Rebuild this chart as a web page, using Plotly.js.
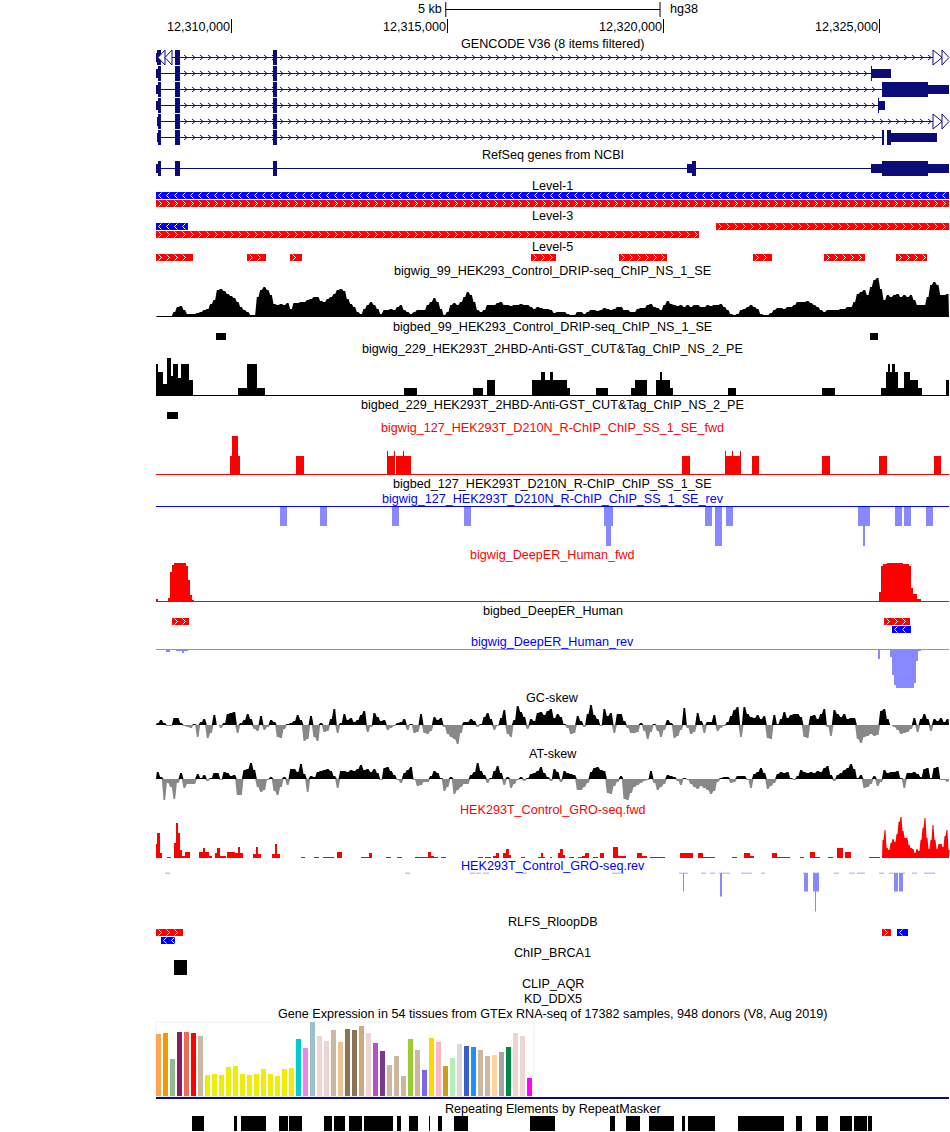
<!DOCTYPE html>
<html><head><meta charset="utf-8">
<script src="https://cdn.plot.ly/plotly-3.0.1.min.js"></script>
<style>html,body{margin:0;padding:0;background:#fff}#c{width:950px;height:1132px}</style>
</head><body><div id="c"></div>
<script>
// ---------- genome window: positions below are display bins (one bin = 5000/216 bases) ----------
const BP_PER_BIN = 5000 / 216;
const WINDOW_START = 12310000 - 75.5 * BP_PER_BIN;
const WINDOW_BINS = 793;
const WIG_STEP = 10 / 3; // bins per value in fixed-step wiggle tracks

const rulerTicks = [12310000, 12315000, 12320000, 12325000];
const rulerLabels = ['12,310,000', '12,315,000', '12,320,000', '12,325,000'];
const scaleBar = [12315000 - 40, 12320000 - 80];

// ---------- fixed-step signal ----------
const dripSignal = [1,1,1,1,1,5,10,11,7,3,3,3,4,5,7,8,13,17,27,28,26,23,21,19,15,10,7,5,2,2,20,27,30,27,22,13,12,13,12,14,8,14,14,15,15,17,18,20,20,16,15,18,20,23,27,28,26,18,13,10,5,3,8,12,15,12,8,3,7,7,8,7,10,12,7,5,3,5,7,7,7,12,15,19,15,8,2,5,12,14,12,15,20,25,22,15,7,5,7,12,12,12,14,15,12,12,11,12,12,13,12,12,10,8,10,9,8,8,
7,4,5,5,5,3,2,2,5,5,3,5,7,7,6,7,9,8,7,8,10,10,7,7,5,5,8,9,9,12,13,10,9,7,12,16,13,12,11,12,10,12,10,12,12,10,10,12,11,12,12,13,10,7,3,2,3,7,8,10,12,10,8,3,2,2,4,7,9,9,8,10,10,12,15,15,15,16,14,12,10,7,5,7,7,7,7,8,8,10,10,15,23,25,27,22,30,37,39,28,17,22,20,22,23,20,22,20,22,17,12,12,12,20,32,35,32,22,22,23];
const gcSkew = [2,5,2,-1,-1,7,7,2,-1,-2,-3,1,-12,3,6,-13,-8,10,0,-3,2,11,12,13,-8,2,5,11,6,-4,-6,9,-5,-2,5,3,-12,-13,-4,1,2,4,10,5,-16,-14,9,-12,-16,2,-7,-6,6,16,-8,2,11,5,7,3,5,10,14,-7,-2,12,8,4,5,-5,-3,-1,2,3,6,-5,1,-8,-7,11,-8,-9,-6,8,5,7,-2,-9,-12,-14,-19,-8,3,3,6,4,-2,1,8,12,6,-5,-1,7,15,-9,-12,5,19,13,8,-4,6,4,12,13,10,14,
16,7,11,8,1,-3,-9,-8,9,4,-2,11,20,10,6,-1,16,9,12,-8,11,11,4,-3,-8,-8,-7,2,-6,-14,-7,1,-6,-12,-5,5,2,-13,-11,-5,17,-3,-9,-7,12,4,-8,3,3,10,-6,-3,-1,3,9,15,18,-12,18,11,8,7,10,6,9,-13,-14,10,1,6,13,7,10,11,11,8,-12,-13,9,10,6,11,16,-2,-11,15,11,8,11,6,7,7,-14,-18,-12,-11,-9,-11,-10,14,16,6,0,-2,-5,-9,-8,-7,-4,7,-7,6,11,6,-6,6,4,7,3,6];
const atSkew = [7,2,-21,-4,-8,-20,-4,6,-9,-5,-5,-5,5,1,4,-2,1,6,6,-1,7,6,3,4,-16,-16,9,10,16,9,-8,-13,-11,-1,2,-12,-16,-8,2,-6,10,10,7,15,5,-13,3,2,7,8,9,10,8,3,-9,8,8,7,9,8,10,14,9,10,7,10,6,-1,11,12,8,4,-1,-4,6,9,12,-1,-7,-6,-3,-3,3,8,6,1,-12,-8,2,-15,-11,-8,-5,-5,4,7,16,8,4,-4,1,8,13,6,-6,2,-9,-5,-1,2,-2,1,5,6,8,12,6,2,
-2,10,7,-3,8,6,5,4,-11,-11,-8,-4,7,11,12,9,8,-14,-15,-7,-3,3,-20,-21,-14,-8,-6,-4,-2,-1,8,-4,-11,-8,-5,4,3,2,-2,-6,1,-1,-5,-8,-10,-7,-9,-11,-15,-12,-3,1,2,2,-4,-3,3,3,3,-1,-9,5,7,11,6,-10,-7,-4,5,7,6,7,1,-1,3,9,7,6,7,6,8,7,11,13,4,-2,4,6,9,11,15,10,1,4,-9,-8,-5,3,-7,-3,9,6,7,7,8,1,-9,6,6,7,5,2,10,11,1,11,12,-1,-1,-3];
const groFwdPeak = [18,28,10,8,15,19,16,24,36,41,27,20,20,13,10,9,5,9,7,18,30,40,20,9,18,33,18,9,14,14,11,22,28,8];
const GRO_PEAK_START = 726;

// ---------- segment signal: [start bin, end bin, value] ----------
const cutTagSegments = [[0,2,32],[2,7,24],[7,11,12],[11,15,38],[15,17,20],[17,22,32],[22,25,18],[25,33,32],[33,37,16],[82,91,8],[91,101,32],[101,109,8],[248,261,8],[317,327,8],[331,339,16],[376,385,16],[385,389,24],[389,394,16],[394,397,24],[397,411,16],[411,414,8],[440,452,8],[475,479,8],[479,491,16],[500,504,16],[504,506,24],[506,514,16],[514,517,8],[572,580,8],[666,679,8],[725,730,8],[730,732,24],[732,734,32],[734,736,24],[736,739,32],[739,742,24],[742,748,8],[748,754,24],[754,762,16],[762,766,8],[790,793,16]];
const rchipFwdSegments = [[74,76,19],[76,82,39],[82,84,19],[140,148,19],[231,232,24],[232,238,19],[238,239,24],[240,247,19],[247,248,24],[248,255,19],[526,534,19],[569,570,24],[570,576,19],[576,577,24],[577,584,19],[584,585,24],[596,603,19],[666,674,19],[723,731,19],[778,785,19]];
const rchipRevSegments = [[124,131,20],[164,171,20],[236,243,20],[308,315,20],[448,450,20],[450,455,40],[455,457,20],[549,556,20],[559,566,40],[570,577,20],[702,707,20],[707,709,40],[709,714,20],[739,746,20],[748,755,20],[770,777,20]];
const deepFwdSegments = [[0,2,3],[2,12,1],[12,14,4],[14,16,30],[16,18,37],[18,30,39],[30,32,36],[32,34,22],[34,36,7],[36,38,2],[38,42,1],[75,77,1],[292,294,1],[723,725,10],[725,727,36],[727,731,38],[731,747,39],[747,753,38],[753,755,36],[755,757,14],[757,761,8],[761,765,3],[765,772,1]];
const deepRevSegments = [[4,10,1],[10,14,3],[14,18,1],[20,26,2],[26,28,4],[28,32,2],[709,712,1],[722,724,10],[734,736,8],[736,738,26],[738,740,36],[740,758,39],[758,760,34],[760,762,12],[762,765,2]];
const groFwdSegments = [[0,1,14],[1,4,25],[4,6,5],[11,15,1],[18,20,15],[20,22,35],[22,24,25],[24,26,8],[26,29,2],[29,34,6],[43,47,6],[47,49,10],[49,53,6],[53,56,2],[59,61,5],[61,64,10],[64,70,2],[71,75,6],[75,79,6],[79,82,5],[82,84,11],[84,87,5],[97,100,4],[100,102,11],[102,105,4],[116,119,4],[119,121,14],[121,124,4],[145,149,1],[158,163,1],[167,172,1],[172,178,1],[181,186,6],[205,213,1],[213,216,5],[230,235,1],[241,246,1],[259,269,1],[269,272,1],[272,275,6],[275,278,2],[278,282,1],[285,290,1],[322,327,1],[329,335,1],[337,340,2],[340,343,5],[347,350,5],[350,353,9],[353,355,3],[365,369,1],[382,385,1],[385,387,5],[387,389,1],[394,396,1],[402,404,5],[404,407,9],[407,409,3],[413,418,1],[422,426,1],[426,429,2],[429,433,5],[437,442,1],[444,448,5],[457,462,11],[462,470,2],[481,486,5],[486,491,2],[494,509,1],[524,531,5],[531,537,5],[542,547,5],[547,559,1],[576,581,1],[588,594,5],[594,598,2],[616,621,5],[621,634,1],[644,648,1],[654,659,6],[659,664,1],[672,677,1],[681,687,10],[689,695,6],[713,724,1]];
const groRevSegments = [[9,14,1],[249,254,1],[314,319,1],[320,325,1],[327,333,1],[366,371,1],[456,468,1],[523,527,1],[527,528,19],[528,532,1],[545,550,1],[554,559,1],[563,564,1],[564,566,24],[566,574,1],[585,596,1],[605,609,1],[647,648,1],[648,652,19],[657,659,19],[659,660,39],[660,663,19],[678,683,1],[693,699,1],[701,709,1],[723,728,1],[733,738,1],[738,742,19],[743,747,19],[747,749,1],[756,761,1],[768,779,1]];

// ---------- feature tracks: start and end bins ----------
const level1Blue = [[0, 793]];
const level1Red = [[0, 793]];
const level3Blue = [[0, 32]];
const level3Red = [[0, 543]];
const level3RedUpper = [[560, 793]];
const level5Red = [[0,37],[91,110],[134,146],[375,400],[463,511],[597,616],[668,709],[740,771]];
const bed99 = [[60,70],[714,722]];
const bed229 = [[11,22]];
const deepBedRed = [[16,33],[728,754]];
const deepBedBlue = [[736,755]];
const rlfsRed = [[0,27],[726,735]];
const rlfsBlue = [[5,19]];
const rlfsBlueRight = [[741,752]];
const brca1 = [[18,31]];
const repeatMasker = [[36,48],[78,81],[85,110],[123,132],[133,146],[168,176],[178,189],[193,206],[208,237],[241,245],[253,262],[273,274],[282,286],[298,312],[374,399],[454,459],[470,484],[493,518],[526,529],[532,559],[582,628],[640,646],[660,672],[684,696],[698,711],[712,716]];

// exons per transcript: full-height coding blocks and shorter UTR blocks
const txThick = [[[1,5],[19,24],[117,121]],[[2,5],[19,24],[117,121]],[[2,5],[19,24],[117,121],[726,772]],[[2,5],[19,24],[117,121]],[[2,5],[19,24],[117,121]],[[2,5],[19,24],[117,121],[726,728],[731,735]]];
const txUtr = [[[0,1]],[[0,2],[715,735]],[[0,2],[772,793]],[[0,2],[723,729]],[[1,2]],[[1,2],[735,781]]];
const txThin = [[],[[715,716]],[],[[722,723]],[],[]];
const txLineEnd = [786, 715, 726, 722, 786, 726];
const refseqThick = [[2,5],[19,24],[117,121],[536,540],[726,772]];
const refseqUtr = [[0,2],[531,536],[715,726],[772,793]];

// ---------- GTEx ----------
const gtexTissues = ['Adipose - Subcutaneous','Adipose - Visceral','Adrenal Gland','Artery - Aorta','Artery - Coronary','Artery - Tibial','Bladder','Brain - Amygdala','Brain - ACC','Brain - Caudate','Brain - Cerebellar Hemisphere','Brain - Cerebellum','Brain - Cortex','Brain - Frontal Cortex','Brain - Hippocampus','Brain - Hypothalamus','Brain - Nucleus accumbens','Brain - Putamen','Brain - Spinal cord','Brain - Substantia nigra','Breast','EBV lymphocytes','Cultured fibroblasts','Cervix - Ectocervix','Cervix - Endocervix','Colon - Sigmoid','Colon - Transverse','Esophagus - GE Junction','Esophagus - Mucosa','Esophagus - Muscularis','Fallopian Tube','Heart - Atrial','Heart - Ventricle','Kidney - Cortex','Kidney - Medulla','Liver','Lung','Minor Salivary Gland','Muscle - Skeletal','Nerve - Tibial','Ovary','Pancreas','Pituitary','Prostate','Skin - Not exposed','Skin - Exposed','Small Intestine','Spleen','Stomach','Testis','Thyroid','Uterus','Vagina','Whole Blood'];
const gtexValues = [62,63,37,64,64,63,60,21,22,21,29,30,22,21,22,27,22,20,27,28,57,48,74,60,55,66,54,67,66,70,63,53,45,31,40,20,57,46,26,58,54,30,38,52,50,49,46,40,41,44,49,63,60,18];
const gtexColors = ['#FFA54F','#EE9A00','#8FBC8F','#8B1C62','#EE6A50','#FF0000','#CDB79E','#EEEE00','#EEEE00','#EEEE00','#EEEE00','#EEEE00','#EEEE00','#EEEE00','#EEEE00','#EEEE00','#EEEE00','#EEEE00','#EEEE00','#EEEE00','#00CDCD','#EE82EE','#9AC0CD','#EED5D2','#EED5D2','#CDB79E','#EEC591','#8B7355','#8B7355','#CDAA7D','#EED5D2','#B452CD','#7A378B','#CDB79E','#CDB79E','#CDB79E','#9ACD32','#CDB79E','#7A67EE','#FFD700','#FFB6C1','#CD9B1D','#B4EEB4','#D9D9D9','#3A5FCD','#1E90FF','#CDB79E','#CDB79E','#FFD39B','#A6A6A6','#008B45','#EED5D2','#EED5D2','#FF00FF'];

// ---------- track labels ----------
const RED = '#ff0000', BLUE = '#0000ff', BLACK = '#000000', NAVY = '#0c0c78', LAV = '#8888ff', GREY = '#888888';
const trackLabels = [
 ['GENCODE V36 (8 items filtered)',44,BLACK],['RefSeq genes from NCBI',155,BLACK],['Level-1',186,BLACK],['Level-3',216,BLACK],['Level-5',247,BLACK],
 ['bigwig_99_HEK293_Control_DRIP-seq_ChIP_NS_1_SE',271,BLACK],['bigbed_99_HEK293_Control_DRIP-seq_ChIP_NS_1_SE',327,BLACK],
 ['bigwig_229_HEK293T_2HBD-Anti-GST_CUT&amp;Tag_ChIP_NS_2_PE',349,BLACK],['bigbed_229_HEK293T_2HBD-Anti-GST_CUT&amp;Tag_ChIP_NS_2_PE',405,BLACK],
 ['bigwig_127_HEK293T_D210N_R-ChIP_ChIP_SS_1_SE_fwd',428,RED],['bigbed_127_HEK293T_D210N_R-ChIP_ChIP_SS_1_SE',484,BLACK],['bigwig_127_HEK293T_D210N_R-ChIP_ChIP_SS_1_SE_rev',499,BLUE],
 ['bigwig_DeepER_Human_fwd',555,RED],['bigbed_DeepER_Human',611,BLACK],['bigwig_DeepER_Human_rev',642,BLUE],
 ['GC-skew',698,BLACK],['AT-skew',754,BLACK],['HEK293T_Control_GRO-seq.fwd',810,RED],['HEK293T_Control_GRO-seq.rev',866,BLUE],
 ['RLFS_RloopDB',922,BLACK],['ChIP_BRCA1',953,BLACK],['CLIP_AQR',984,BLACK],['KD_DDX5',999,BLACK],
 ['Gene Expression in 54 tissues from GTEx RNA-seq of 17382 samples, 948 donors (V8, Aug 2019)',1014,BLACK],
 ['Repeating Elements by RepeatMasker',1109,BLACK]
];

// ---------- helpers ----------
const W = 950, H = 1132;
const FONT = 'Liberation Sans, Arial, sans-serif';
const gx = b => WINDOW_START + b * BP_PER_BIN;
const traces = [], layout = {
  width: W, height: H, margin: {l:0,r:0,t:0,b:0,pad:0}, showlegend: false,
  paper_bgcolor: '#ffffff', plot_bgcolor: 'rgba(0,0,0,0)', hovermode: false,
  xaxis: {range:[gx(-156), gx(W-156)], visible:false, fixedrange:true, domain:[0,1]},
  xaxis2: {range:[-2.5/7-156/7, -2.5/7+(W-156)/7], visible:false, fixedrange:true, overlaying:'x', anchor:'y'},
  yaxis: {range:[H,0], visible:false, fixedrange:true, domain:[0,1]},
  annotations: [], shapes: []
};
let axisN = 1;
function trackAxis(top, bottom, lo, hi) {
  axisN++;
  layout['yaxis'+axisN] = {domain:[1-bottom/H, 1-top/H], range:[lo,hi], visible:false, fixedrange:true, anchor:'x'};
  return 'y'+axisN;
}
function rects(list, top, h, color, yaxis) {
  const x=[], y=[];
  list.forEach(([s,e]) => { x.push(gx(s),gx(e),gx(e),gx(s),gx(s),null); y.push(top,top,top+h,top+h,top,null); });
  traces.push({type:'scatter',mode:'lines',x,y,fill:'toself',fillcolor:color,line:{width:0,color},yaxis:yaxis||'y',xaxis:'x'});
}
function chevrons(list, centre, dir, color, halfH, wide, step, phase, width) {
  const x=[], y=[];
  list.forEach(([s,e]) => {
    for (let b = s + phase; b + wide <= e; b += step) {
      if (dir > 0) { x.push(gx(b),gx(b+wide),gx(b),null); }
      else { x.push(gx(b+wide),gx(b),gx(b+wide),null); }
      y.push(centre-halfH,centre,centre+halfH,null);
    }
  });
  traces.push({type:'scatter',mode:'lines',x,y,line:{width:width||1,color},yaxis:'y',xaxis:'x',connectgaps:false});
}
function bed(list, top, color, dir) {
  rects(list, top, 7, color);
  chevrons(list, top+3.5, dir, '#ffffff', 3, 3, 8, 2.5);
}
function hline(b0, b1, y, color, yaxis, width) {
  traces.push({type:'scatter',mode:'lines',x:[gx(b0),gx(b1)],y:[y,y],line:{width:width||1,color},yaxis:yaxis||'y',xaxis:'x'});
}
function segTrack(segs, ax, color) {
  const x=[], y=[];
  segs.forEach(([s,e,v]) => { x.push(gx(s),gx(s),gx(e),gx(e),gx(s),null); y.push(0,v,v,0,0,null); });
  traces.push({type:'scatter',mode:'lines',x,y,fill:'toself',fillcolor:color,line:{width:0,color},yaxis:ax,xaxis:'x'});
}
function areaTrack(vals, startBin, step, ax, color) {
  // each value holds for the middle of its step; the outline slopes between neighbours
  const px=[gx(startBin)], py=[0];
  vals.forEach((v,i)=>{
    px.push(gx(startBin+(i+0.25)*step), gx(startBin+(i+0.75)*step));
    py.push(v, v);
  });
  const end = gx(Math.min(startBin+vals.length*step, WINDOW_BINS));
  px.push(end, px[0]); py.push(0, 0);
  traces.push({type:'scatter',mode:'lines',x:px,y:py,fill:'toself',fillcolor:color,line:{width:0,color},yaxis:ax,xaxis:'x'});
}
function skewTrack(vals, top, bottom) {
  const ax = trackAxis(top, bottom, -22, 22);
  areaTrack(vals.map(v=>Math.max(v,0)), 0, WIG_STEP, ax, BLACK);
  areaTrack(vals.map(v=>Math.min(v,0)), 0, WIG_STEP, ax, GREY);
}
function triangle(tip, base, top, h, stroke) {
  traces.push({type:'scatter',mode:'lines',x:[gx(base),gx(tip),gx(base),gx(base)],y:[top,top+h/2,top+h,top],fill:'toself',fillcolor:'#ffffff',line:{width:1,color:stroke},yaxis:'y',xaxis:'x'});
}

// ---------- ruler ----------
const note = (text,x,y,anchor,color,xref) => layout.annotations.push({text,x,y,xref:xref||'x',yref:'y',xanchor:anchor,yanchor:'middle',showarrow:false,align:'center',borderpad:0,font:{family:FONT,size:12.6,color:color||BLACK}});
rulerTicks.forEach((t,i)=>{
  traces.push({type:'scatter',mode:'lines',x:[t,t],y:[19,33],line:{width:1,color:BLACK},yaxis:'y',xaxis:'x'});
  note(rulerLabels[i], t-0.5*BP_PER_BIN, 27, 'right');
});
traces.push({type:'scatter',mode:'lines',x:[scaleBar[0],scaleBar[1]],y:[9.5,9.5],line:{width:1,color:BLACK},yaxis:'y',xaxis:'x'});
scaleBar.forEach(t=>traces.push({type:'scatter',mode:'lines',x:[t,t],y:[2,17],line:{width:1,color:BLACK},yaxis:'y',xaxis:'x'}));
note('5 kb', scaleBar[0]-3*BP_PER_BIN, 9, 'right');
note('hg38', scaleBar[1]+9*BP_PER_BIN, 9, 'left');
trackLabels.forEach(([t,y,c])=>note(t, gx(396.5), y, 'center', c));

// ---------- gene tracks ----------
const txTops = [50,66,82,98,114,130];
txTops.forEach((top,i)=>{
  const mid = top+7.5;
  hline(4, txLineEnd[i], mid, NAVY);
  chevrons([[i===0?20:8, txLineEnd[i]]], mid, 1, NAVY, 2.5, 3, 8, 4 - ((i===0?20:8)%8) + 8, 1);
  rects(txThick[i], top, 15, NAVY);
  rects(txUtr[i], top+3, 9, NAVY);
  if (txThin[i].length) rects(txThin[i], top, 15, NAVY);
});
triangle(2, 9, 50, 15, NAVY); triangle(9, 16, 50, 15, NAVY);
[50,114].forEach(top=>{ triangle(786, 777, top, 15, NAVY); triangle(793, 786, top, 15, NAVY); });
hline(0, 793, 168.5, NAVY);
rects(refseqThick, 161, 15, NAVY);
rects(refseqUtr, 164, 9, NAVY);

// ---------- enrichment beds ----------
bed(level1Blue, 192, BLUE, -1);
bed(level1Red, 200, RED, 1);
bed(level3Blue, 223, BLUE, -1);
bed(level3RedUpper, 223, RED, 1);
bed(level3Red, 231, RED, 1);
bed(level5Red, 254, RED, 1);
rects(bed99, 333, 7, BLACK);
rects(bed229, 412, 7, BLACK);
bed(deepBedRed, 618, RED, 1);
bed(deepBedBlue, 626, BLUE, -1);
bed(rlfsRed, 929, RED, 1);
bed(rlfsBlueRight, 929, BLUE, -1);
bed(rlfsBlue, 937, BLUE, -1);
rects(brca1, 960, 15, BLACK);
rects(repeatMasker, 1116, 15, BLACK);

// ---------- signal tracks ----------
let ax;
ax = trackAxis(277, 317, 0, 40); areaTrack(dripSignal, 0, WIG_STEP, ax, BLACK);
ax = trackAxis(356, 396, 0, 40); segTrack(cutTagSegments, ax, BLACK); hline(0,793,0.5,BLACK,ax);
ax = trackAxis(435, 475, 0, 40); segTrack(rchipFwdSegments, ax, RED); hline(0,793,0.5,RED,ax);
ax = trackAxis(506, 546, 40, 0); segTrack(rchipRevSegments, ax, LAV); hline(0,793,0.5,BLUE,ax);
ax = trackAxis(562, 602, 0, 40); segTrack(deepFwdSegments, ax, RED); hline(0,793,0.5,RED,ax);
ax = trackAxis(649, 689, 40, 0); segTrack(deepRevSegments, ax, LAV); hline(0,793,0.5,LAV,ax);
skewTrack(gcSkew, 703, 747);
skewTrack(atSkew, 757, 801);
ax = trackAxis(816, 858, 0, 42); segTrack(groFwdSegments, ax, RED); areaTrack(groFwdPeak, GRO_PEAK_START, 2, ax, RED);
ax = trackAxis(872.5, 914.5, 42, 0); segTrack(groRevSegments, ax, LAV);

// ---------- GTEx bars ----------
ax = trackAxis(1022, 1096, 0, 74);
layout.shapes.push({type:'rect',xref:'x',yref:'y',x0:gx(0),x1:gx(378),y0:1022,y1:1096.5,line:{color:'#eeeeee',width:1},fillcolor:'rgba(0,0,0,0)',layer:'below'});
traces.push({type:'bar',x:gtexTissues.map((_,i)=>i),y:gtexValues,text:gtexTissues,textposition:'none',width:5/7,marker:{color:gtexColors,line:{width:0}},xaxis:'x2',yaxis:ax});
hline(0, 793, 1098, NAVY, 'y', 2);

traces.forEach(t=>{ t.showlegend=false; t.hoverinfo='skip'; });
Plotly.newPlot('c', traces, layout, {staticPlot:true, displayModeBar:false});
</script></body></html>
